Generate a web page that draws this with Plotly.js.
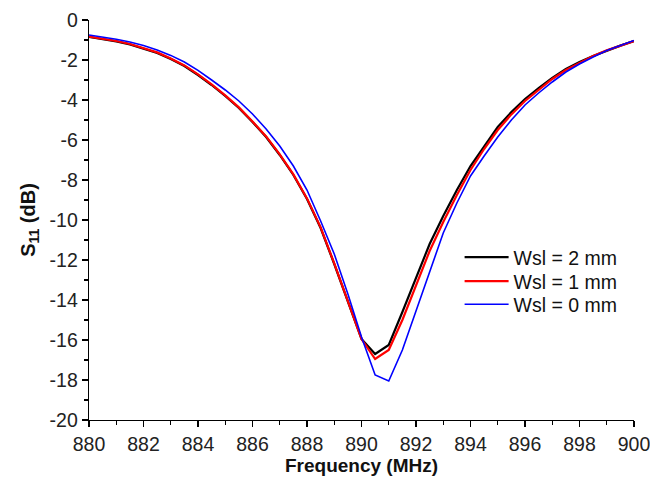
<!DOCTYPE html>
<html>
<head>
<meta charset="utf-8">
<script src="https://cdn.plot.ly/plotly-3.0.1.min.js"></script>
<style>html,body{margin:0;padding:0;background:#fff;}#chart{width:650px;height:477px;}</style>
</head>
<body>
<div id="chart"></div>
<script>
const freq = [880,880.5,881,881.5,882,882.5,883,883.5,884,884.5,885,885.5,886,886.5,887,887.5,888,888.5,889,889.5,890,890.5,891,891.5,892,892.5,893,893.5,894,894.5,895,895.5,896,896.5,897,897.5,898,898.5,899,899.5,900];
const s11_wsl2 = [-0.85,-0.95,-1.07,-1.22,-1.42,-1.65,-1.95,-2.3,-2.75,-3.25,-3.8,-4.4,-5.1,-5.85,-6.75,-7.75,-8.95,-10.4,-12.2,-14.1,-15.95,-16.7,-16.25,-14.6,-12.85,-11.2,-9.8,-8.5,-7.3,-6.3,-5.35,-4.6,-3.95,-3.4,-2.9,-2.45,-2.1,-1.8,-1.52,-1.28,-1.05];
const s11_wsl1 = [-0.83,-0.93,-1.05,-1.2,-1.4,-1.62,-1.92,-2.27,-2.72,-3.22,-3.77,-4.37,-5.07,-5.82,-6.72,-7.72,-8.92,-10.37,-12.17,-14.07,-15.95,-16.95,-16.5,-15.0,-13.25,-11.55,-10.1,-8.75,-7.5,-6.45,-5.5,-4.72,-4.05,-3.48,-2.95,-2.5,-2.13,-1.8,-1.52,-1.28,-1.05];
const s11_wsl0 = [-0.75,-0.85,-0.96,-1.1,-1.28,-1.5,-1.77,-2.1,-2.52,-3.0,-3.5,-4.05,-4.7,-5.45,-6.3,-7.3,-8.5,-10.05,-11.7,-13.7,-15.85,-17.75,-18.05,-16.5,-14.55,-12.6,-10.65,-9.15,-7.8,-6.8,-5.85,-5.0,-4.25,-3.65,-3.1,-2.6,-2.2,-1.85,-1.53,-1.27,-1.02];
const seriesNames = ['Wsl = 2 mm','Wsl = 1 mm','Wsl = 0 mm'];
const xTickVals = [880,882,884,886,888,890,892,894,896,898,900];
const xTickText = ['880','882','884','886','888','890','892','894','896','898','900'];
const yTickVals = [0,-2,-4,-6,-8,-10,-12,-14,-16,-18,-20];
const yTickText = ['0','-2','-4','-6','-8','-10','-12','-14','-16','-18','-20'];

const font = 'Arial, "Liberation Sans", sans-serif';
const traces = [
  {x: freq, y: s11_wsl2, name: seriesNames[0], mode: 'lines', legend: 'legend', line: {color: '#000000', width: 2.2}},
  {x: freq, y: s11_wsl1, name: seriesNames[1], mode: 'lines', legend: 'legend2', line: {color: '#ff0000', width: 2.2}},
  {x: freq, y: s11_wsl0, name: seriesNames[2], mode: 'lines', legend: 'legend3', line: {color: '#0000ff', width: 1.6}}
];
const axisCommon = {
  showgrid: false, zeroline: false, showline: true, linecolor: '#000', linewidth: 1.3,
  ticks: 'outside', ticklen: 6, tickwidth: 1.3, tickcolor: '#000',
  tickfont: {family: font, size: 19.5, color: '#222'},
  ticklabeloverflow: 'allow',
  minor: {ticks: 'outside', ticklen: 4, tickwidth: 1.2, tickcolor: '#000', showgrid: false}
};
function legendAt(y) {
  return {x: 0.68, y: y, xanchor: 'left', yanchor: 'top', bgcolor: 'rgba(0,0,0,0)',
          font: {family: font, size: 19.5, color: '#111'}, itemwidth: 44};
}
const layout = {
  width: 650, height: 477,
  margin: {l: 89, r: 16, t: 20, b: 57},
  paper_bgcolor: '#fff', plot_bgcolor: '#fff',
  showlegend: true,
  legend: legendAt(0.455),
  legend2: legendAt(0.395),
  legend3: legendAt(0.3375),
  xaxis: Object.assign({}, axisCommon, {
    range: [880, 900], tickmode: 'array', tickvals: xTickVals, ticktext: xTickText,
    minor: Object.assign({}, axisCommon.minor, {dtick: 1, tick0: 880}),
    title: {text: '<b>Frequency (MHz)</b>', font: {family: font, size: 19, color: '#111'}, standoff: 2}
  }),
  yaxis: Object.assign({}, axisCommon, {
    range: [-20, 0], tickmode: 'array', tickvals: yTickVals, ticktext: yTickText,
    minor: Object.assign({}, axisCommon.minor, {dtick: 1, tick0: 0}),
    title: {text: '<b>S<sub>11</sub> (dB)</b>', font: {family: font, size: 20, color: '#111'}, standoff: 8}
  })
};
Plotly.newPlot('chart', traces, layout, {displayModeBar: false, staticPlot: true});
</script>
</body>
</html>
